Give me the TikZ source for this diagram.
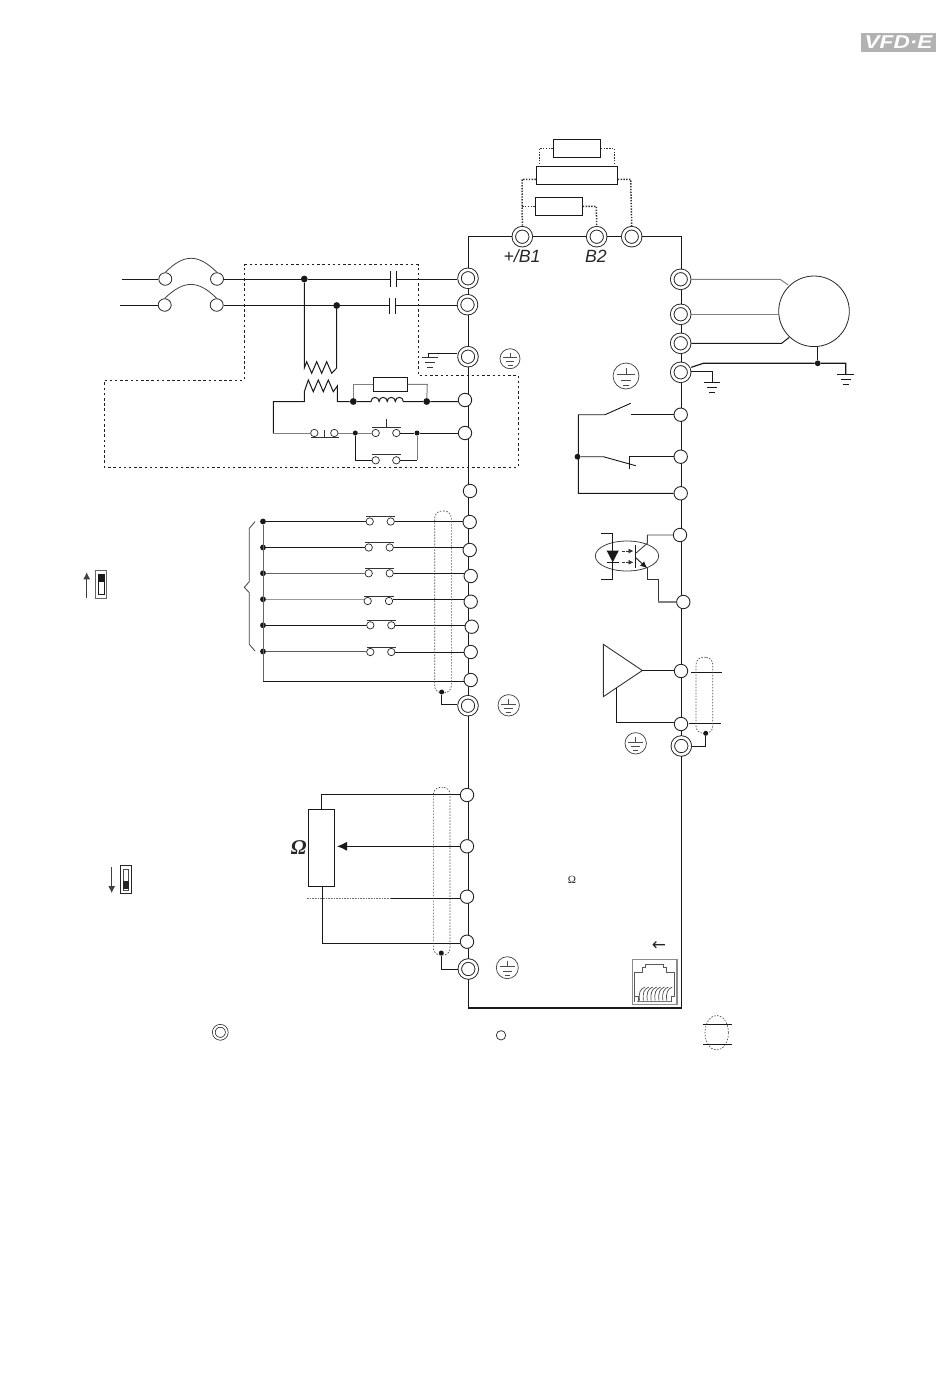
\documentclass[tikz,border=0pt]{standalone}
\usepackage{fontspec}
\setmainfont{Liberation Sans}
\newfontfamily\serifL{Liberation Serif}
\newfontfamily\dejav{DejaVu Sans}
\usetikzlibrary{arrows.meta,calc}
\tikzset{
  wire/.style={line width=1pt,black!90},
  gwire/.style={line width=1pt,black!50},
  term/.style={circle,draw=black!85,fill=white,inner sep=0pt,minimum size=13.4pt,line width=.9pt},
  dterm/.style={circle,draw=black!88,fill=white,double,double distance=2.6pt,inner sep=0pt,minimum size=17pt,line width=.9pt,outer sep=2.1pt},
  jn/.style={circle,fill=black!90,inner sep=0pt,minimum size=5.8pt},
  bjn/.style={circle,fill=black!90,inner sep=0pt,minimum size=6.8pt},
  ct/.style={circle,draw=black!85,fill=white,inner sep=0pt,minimum size=7.4pt,line width=.7pt},
  fuseterm/.style={ellipse,draw=black!85,fill=white,inner sep=0pt,minimum width=13pt,minimum height=12.5pt,line width=.8pt},
  rbox/.style={rectangle,draw=black!90,fill=white,inner sep=0pt,line width=1pt},
  dottedw/.style={line width=1.5pt,black!80,dash pattern=on 1.4pt off 1.4pt},
  dashbox/.style={line width=1pt,black!88,dash pattern=on 2.5pt off 2.7pt},
  shieldbox/.style={rectangle,rounded corners=7pt,draw=black!70,line width=.7pt,dash pattern=on 1.5pt off 1.5pt,inner sep=0pt},
  earthc/.style={circle,draw=black!75,fill=white,inner sep=0pt,line width=.7pt},
  lbl/.style={inner sep=0pt,font=\fontsize{17.7}{18}\selectfont\itshape,text=black!85},
}
\usetikzlibrary{shapes.geometric}
\newcommand\earthsym[4]{% name x y r
  \node[earthc,minimum size=#4*2pt] (#1) at (#2,#3) {};
  \draw[line width=.6pt,black!70]
    (#2,#3-.6*#4) -- (#2,#3-.13*#4)
    (#2-.7*#4,#3-.13*#4) -- (#2+.7*#4,#3-.13*#4)
    (#2-.42*#4,#3+.3*#4) -- (#2+.42*#4,#3+.3*#4)
    (#2-.25*#4,#3+.7*#4) -- (#2+.25*#4,#3+.7*#4);
}
\newcommand\gndbars[3]{% x y scale
  \draw[line width=1.1pt,black!90] (#1-8.3*#3,#2) -- (#1+8.3*#3,#2);
  \draw[line width=1.2pt,black!90] (#1-5*#3,#2+5*#3) -- (#1+5*#3,#2+5*#3);
  \draw[line width=1.3pt,black!90] (#1-3.2*#3,#2+10.2*#3) -- (#1+3.2*#3,#2+10.2*#3);
}
\newcommand\nocontact[5]{% name xa xb y baroffset
  \node[ct] (#1a) at (#2,#4) {};
  \node[ct] (#1b) at (#3,#4) {};
  \draw[line width=.85pt,black!80] ($(#1a)+(-3.7,#5)$) -- ($(#1b)+(4.5,#5)$);
}
\begin{document}
\begin{tikzpicture}[x=1pt,y=-1pt]
\useasboundingbox (0,0) rectangle (950,1386);
% logo
\node[rectangle,fill=black!30,minimum width=75pt,minimum height=19pt,inner sep=0pt] (logo) at (898.5,42.5) {};
\node[inner sep=0pt,text=white,font=\fontsize{18.5}{19}\selectfont\bfseries\itshape] (logot) at (898.5,42.5) {\scalebox{1.22}[1]{VFD·E}};
% main frame
\coordinate (TL) at (468.3,236.7);
\coordinate (TR) at (681.3,236.7);
\coordinate (BR) at (681.3,1008);
\coordinate (BL) at (468.3,1008);
\draw[wire,line width=1.1pt] (TL) -- (TR) -- (BR) -- (BL) -- cycle;
% top terminals
\node[dterm] (B1) at (522.3,236.7) {};
\node[dterm] (B2) at (596.7,236.7) {};
\node[dterm] (Mi) at (631.7,236.7) {};
\node[lbl] (lB1) at (522,256.5) {+/B1};
\node[lbl] (lB2) at (596,256.5) {B2};
% brake boxes
\node[rbox,minimum width=47pt,minimum height=18pt] (br1) at (576.8,148.3) {};
\node[rbox,minimum width=81pt,minimum height=18pt] (br2) at (576.8,175.3) {};
\node[rbox,minimum width=47pt,minimum height=18pt] (br3) at (558.8,206.3) {};
\draw[dottedw] (br1.west) -- (539.3,148.3) -- (539.3,166.3);
\draw[dottedw] (br1.east) -- (614.3,148.3) -- (614.3,166.3);
\draw[dottedw] (br2.west |- 0,179.3) -- (522,179.3) -- (B1.north);
\draw[dottedw] (br2.east |- 0,179.3) -- (630.7,179.3) -- (Mi.north);
\draw[dottedw] (br3.west) -- (522,206.3);
\draw[dottedw] (br3.east) -- (596.3,206.3) -- (B2.north);
% left power terminals
\node[dterm] (R) at (468,278.3) {};
\node[dterm] (S) at (467.5,304.7) {};
\node[dterm] (E1) at (468,356.7) {};
\earthsym{e1}{510}{358.7}{10}
\node[term] (a1) at (465,400) {};
\node[term] (a2) at (465,433) {};
\node[term] (a3) at (470,491) {};
% supply
\coordinate (L1) at (121.7,279);
\coordinate (L2) at (120,305);
\node[fuseterm] (f1a) at (165.3,279) {};
\node[fuseterm] (f1b) at (217,279) {};
\node[fuseterm] (f2a) at (164.7,305) {};
\node[fuseterm] (f2b) at (216.7,305) {};
\draw[wire] (L1) -- (f1a);
\draw[wire] (L2) -- (f2a);
\draw[wire,black!75,line width=.8pt] (f1a.north) .. controls (184,253.6) and (198,253.6) .. (f1b.north);
\draw[wire,black!75,line width=.8pt] (f2a.north) .. controls (184,279.8) and (198,279.8) .. (f2b.north);
\node[bjn] (j1) at (304.3,279) {};
\node[bjn] (j2) at (336.7,305.5) {};
\coordinate (c1a) at (390,279);
\coordinate (c1b) at (396,279);
\coordinate (c2a) at (389,305);
\coordinate (c2b) at (395,305);
\draw[wire] (f1b) -- (j1) -- (c1a);
\draw[wire] (c1b) -- (c1b -| R.west);
\draw[wire] (f2b) -- (c2a);
\draw[wire] (c2b) -- (c2b -| S.west);
\draw[wire] ($(c1a)+(0,-8.5)$) -- ($(c1a)+(0,8)$);
\draw[wire] ($(c1b)+(0,-8.5)$) -- ($(c1b)+(0,8)$);
\draw[wire] ($(c2a)+(0,-7.5)$) -- ($(c2a)+(0,9)$);
\draw[wire] ($(c2b)+(0,-7.5)$) -- ($(c2b)+(0,9)$);
% filter transformer
\draw[wire] (j1) -- (304.3,368) -- (306.7,361.7) -- (311.7,373.3) -- (316.7,361.7) -- (321.7,373.3) -- (326.7,361.7) -- (331.7,373.3) -- (336.7,368) -- (j2);
\node[bjn] (j3) at (353.3,401.5) {};
\node[bjn] (j4) at (426.7,401.5) {};
\draw[wire] (a1.west |- j4) -- (j4) -- (403.3,401.5)
  .. controls (403.3,396) and (395.3,396) .. (395.3,401.5)
  .. controls (395.3,396) and (387.2,396) .. (387.2,401.5)
  .. controls (387.2,396) and (379.1,396) .. (379.1,401.5)
  .. controls (379.1,396) and (371,396) .. (371,401.5) -- (j3)
  -- (337.3,401.5) -- (337.3,386) -- (333.3,391.7) -- (328.3,380) -- (323.3,391.7) -- (318.3,380) -- (313.3,391.7) -- (308.3,380) -- (304.3,391.7) -- (304.3,401.5) -- (273.3,401.5) -- (273.3,433);
\node[rbox,minimum width=34pt,minimum height=14pt] (rf) at (390.3,384.3) {};
\draw[gwire] (j3) -- (353.3,384.3) -- (rf.west);
\draw[gwire] (rf.east) -- (427.3,384.3) -- (j4);
% start/stop
\nocontact{st}{314.3}{334.3}{433}{4.4}
\draw[line width=.85pt,black!80] (324.3,430) -- (324.3,437.4);
\nocontact{on}{375.7}{396.3}{433}{-6}
\draw[line width=.85pt,black!80] (386,419.3) -- (386,427);
\nocontact{hd}{375.7}{396.3}{460.3}{-6}
\node[jn,minimum size=5pt] (j5) at (355.3,433) {};
\node[jn,minimum size=5pt] (j6) at (417,433) {};
\draw[gwire] (273.3,433) -- (sta);
\draw[gwire] (stb) -- (j5) -- (ona);
\draw[wire] (onb) -- (j6) -- (a2.west);
\draw[wire] (j5) -- (355.3,460.3) -- (hda);
\draw[gwire] (j6) -- (417,460.3);
\draw[wire] (417,460.3) -- (hdb);
% dashed filter box
\draw[dashbox] (244.3,264.7) -- (418.3,264.7) -- (418.3,375.3) -- (518.3,375.3) -- (518.3,467) -- (104.3,467) -- (104.3,380) -- (244.3,380) -- cycle;
% ground near E1
\draw[wire] (E1.west |- 0,353.3) -- (428.3,353.3) -- (428.3,357.3);
\draw[line width=.85pt,black!80] (421.7,357.3) -- (438.3,357.3) (425,362.3) -- (435,362.3) (427,367.3) -- (433,367.3);
% right terminals
\node[dterm] (U) at (680.7,279.3) {};
\node[dterm] (V) at (680.7,314.3) {};
\node[dterm] (W) at (680.7,343.3) {};
\node[dterm] (E2) at (680.7,372.3) {};
\earthsym{e2}{626}{376}{13}
\node[circle,draw=black!85,line width=.8pt,inner sep=0pt,minimum size=70.6pt] (M) at (814,311.3) {};
\draw[gwire] (U.east) -- (780,279.3) -- (788.3,285);
\draw[gwire] (V.east) -- (779,314.3);
\draw[wire] (W.east) -- (781.7,343.3) -- (789.3,337.3);
\node[jn] (jm) at (817.7,363.3) {};
\draw[wire] (817.7,346.6) -- (jm);
\draw[wire,line width=1.2pt] (E2.east |- 0,367.3) -- (703.3,363.3) -- (jm) -- (845.7,363.3) -- (845.7,374.3);
\gndbars{845.7}{374.3}{1}
\draw[wire,line width=1.2pt] (E2.east |- 0,371.7) -- (712.3,371.7) -- (712.3,382.3);
\gndbars{712}{382.3}{1}
% relay
\node[term] (ra) at (680.7,414.7) {};
\node[term] (rb) at (680.7,456.7) {};
\node[term] (rc) at (680.7,493.3) {};
\node[jn] (jr) at (577.5,456.7) {};
\draw[wire] (ra.west) -- (630.7,414.7);
\draw[wire,line width=.9pt] (630.7,403.3) -- (605,414.7) -- (578.3,414.7) -- (578.3,493.3) -- (rc.west);
\draw[wire,line width=.9pt] (jr) -- (603.3,456.7) -- (635.7,465.7);
\draw[wire,line width=.9pt] (rb.west) -- (629.3,456.7) -- (629.3,469.3);
% optocoupler
\node[term] (mo1) at (680,535) {};
\node[term] (mo2) at (683.3,602) {};
\node[ellipse,draw=black!75,line width=.8pt,inner sep=0pt,minimum width=63.4pt,minimum height=30pt] (opto) at (627,556) {};
\draw[wire,line width=.9pt] (601,533.3) -- (612.7,533.3) -- (612.7,579.3) -- (601,579.3);
\fill[black!90] (606.7,550.7) -- (618.7,550.7) -- (612.7,562.3) -- cycle;
\draw[line width=.9pt,black!90] (606.7,562.3) -- (618.7,562.3);
\draw[line width=.7pt,black!80,dash pattern=on 3pt off 1.5pt,-{Latex[length=5pt,width=5pt]}] (621.7,551) -- (633.5,551);
\draw[line width=.7pt,black!80,dash pattern=on 3pt off 1.5pt,-{Latex[length=5pt,width=5pt]}] (621.7,562.3) -- (633.5,562.3);
\draw[line width=.9pt,black!90] (635.7,545) -- (635.7,568.3);
\draw[line width=.9pt,black!75] (635.7,553.3) -- (647.3,543.3) -- (647.3,535) -- (mo1.west);
\draw[line width=.9pt,black!90,-{Latex[length=7pt,width=6pt]}] (635.7,557.7) -- (647.3,568.3);
\draw[line width=.9pt,black!80] (647.3,568.3) -- (647.3,579.3) -- (658.3,579.3) -- (658.3,602);
\draw[gwire,line width=1.1pt] (658.3,602) -- (mo2.west);
% analog output
\node[term] (ao1) at (681,671) {};
\node[term] (ao2) at (681,724) {};
\node[dterm] (E3) at (681.3,746) {};
\earthsym{e4}{635.7}{743.3}{10.7}
\draw[line width=.9pt,black!80] (603.3,644.3) -- (603.3,696.7) -- (642.3,670.5) -- cycle;
\draw[wire] (642.3,670.5) -- (ao1.west |- 0,670.5);
\draw[wire,line width=.85pt] (616.3,688.3) -- (616.3,722.3) -- (ao2.west |- 0,722.3);
\draw[wire] (691,672.3) -- (721.7,672.3);
\draw[wire] (689.3,723.3) -- (720.7,723.3);
\node[shieldbox,minimum width=16.7pt,minimum height=76pt] (sh2) at (704.4,695.3) {};
\node[jn,minimum size=5pt] (js2) at (705.7,733.3) {};
\draw[wire] (js2) -- (705.7,746) -- (E3.east);
% digital inputs
\node[term] (d1) at (469.7,522) {};
\node[term] (d2) at (469.7,550) {};
\node[term] (d3) at (470.7,576) {};
\node[term] (d4) at (470.7,601.7) {};
\node[term] (d5) at (471.7,626.7) {};
\node[term] (d6) at (470.7,652) {};
\node[term] (dc) at (470.7,680) {};
\node[dterm] (E4) at (468,705.7) {};
\earthsym{e3}{508.7}{705.3}{10.7}
\nocontact{m1}{369.7}{390.7}{521.5}{-5.3}
\nocontact{m2}{368.7}{389.7}{547.5}{-5.3}
\nocontact{m3}{368.7}{389.7}{573.3}{-5}
\nocontact{m4}{367.7}{389}{601}{-4.7}
\nocontact{m5}{370.3}{391.3}{625.3}{-5}
\nocontact{m6}{370.3}{391.3}{652}{-5}
\node[jn] (k1) at (263,521.5) {};
\node[jn] (k2) at (263,547.5) {};
\node[jn] (k3) at (263,573.3) {};
\node[jn] (k4) at (263,599.3) {};
\node[jn] (k5) at (263,625.3) {};
\node[jn] (k6) at (263,651.5) {};
\draw[wire] (k1) -- (m1a);
\draw[wire] (k2) -- (m2a);
\draw[gwire,black!60] (k3) -- (m3a);
\draw[gwire,black!40] (k4) -- (k4 -| m4a.west);
\draw[wire] (k5) -- (m5a);
\draw[gwire,black!65] (k6) -- (k6 -| m6a.west);
\draw[wire] (m1b) -- (m1b -| d1.west);
\draw[wire] (m2b) -- (m2b -| d2.west);
\draw[wire] (m3b) -- (m3b -| d3.west);
\draw[wire] (m4b.east |- k4) -- (k4 -| d4.west);
\draw[wire] (m5b) -- (m5b -| d5.west);
\draw[wire] (m6b) -- (m6b -| d6.west);
\draw[gwire,black!60] (k1) -- (263,681.3);
\draw[wire] (263,681.3) -- (dc.west |- 0,681.3);
\draw[line width=.8pt,black!75] (255,521.7) -- (249.3,528.3) -- (249.3,581.7) -- (244.3,587.3) -- (249.3,592.7) -- (249.3,644.3) -- (255,651);
\node[shieldbox,minimum width=16.7pt,minimum height=181.7pt] (sh1) at (443,601.9) {};
\node[jn,minimum size=5pt] (js1) at (441.7,692) {};
\draw[wire,line width=1.2pt] (js1) -- (441.7,704.3) -- (E4.west |- 0,704.3);
% switch up
\draw[line width=.8pt,black!75,-{Latex[length=7pt,width=7pt]}] (86.7,598.3) -- (86.7,572.3);
\draw[line width=.9pt,black!60] (95.5,570) rectangle (106.7,598.3);
\draw[line width=.8pt,black!90] (98,574) rectangle (104.3,594);
\fill[black!90] (98,574) rectangle (104.3,581.7);
% switch down
\draw[line width=.8pt,black!75,-{Latex[length=7pt,width=7pt]}] (111.7,867.3) -- (111.7,893);
\draw[line width=.9pt,black!85] (120.3,865.3) rectangle (131.7,893.7);
\draw[line width=.7pt,black!70] (123.3,869.3) rectangle (128.7,890);
\fill[black!85] (123.3,881) rectangle (128.7,889.3);
% analog inputs
\node[term] (v1) at (467,795) {};
\node[term] (v2) at (467,846.3) {};
\node[term] (v3) at (467,896.7) {};
\node[term] (v4) at (467,941.7) {};
\node[dterm] (E5) at (468.3,969) {};
\earthsym{e5}{507.3}{967.7}{11}
\node[rbox,minimum width=26pt,minimum height=77.4pt] (pot) at (321.3,848) {};
\draw[wire] (pot.north) -- (321.3,794.6) -- (v1.west |- 0,794.6);
\draw[wire,{Latex[length=10pt,width=9pt]}-] (337,846.3) -- (v2.west);
\coordinate (v3m) at (390,898.3);
\draw[wire] (v3m) -- (v3.west |- v3m);
\draw[line width=.7pt,black!55,dash pattern=on 1pt off .6pt] (306.7,898.3) -- (v3m);
\draw[wire] (322.3,886.7) -- (322.3,943.3) -- (v4.west |- 0,943.3);
\node[lbl,font=\fontsize{21}{21}\selectfont\serifL\bfseries\itshape] (om1) at (298.6,848) {Ω};
\node[shieldbox,minimum width=16.7pt,minimum height=167.7pt] (sh3) at (441.7,871.2) {};
\node[jn,minimum size=5pt] (js3) at (441.3,953) {};
\draw[wire,line width=1.2pt] (js3) -- (441.3,969.3) -- (E5.west |- 0,969.3);
\node[inner sep=0pt,font=\fontsize{11}{11}\selectfont\serifL,text=black!85] (om2) at (572,880) {Ω};
% RJ45
\node[inner sep=0pt,font=\fontsize{17}{17}\selectfont\dejav,text=black!85] (arr) at (659,946.5) {←};
\draw[line width=1.3pt,black!45] (632.3,959.3) rectangle (677,1004.3);
\draw[line width=.8pt,black!65] (634.7,1002) -- (634.7,972.7) -- (642.7,972.7) -- (642.7,967.3) -- (645.3,967.3) -- (645.3,964.3) -- (663.3,964.3) -- (663.3,967.3) -- (666.7,967.3) -- (666.7,972.7) -- (674.7,972.7) -- (674.7,996.7) -- (671.7,996.7) -- (671.7,1001) -- (638.3,1001) -- (638.3,996.7) -- (634.7,996.7);
\foreach \i in {0,...,7}{
  \draw[line width=.7pt,black!70] ({639.5+\i*3.9},1000.5) .. controls ({638.5+\i*3.9},993) and ({640+\i*3.9},989) .. ({645+\i*3.9},987);
}
\draw[line width=1pt,black!55] (637,1001) -- (671,1001);
% legend
\node[dterm,minimum size=13pt,double distance=2pt,line width=.7pt] (lg1) at (220.3,1032.3) {};
\node[term,minimum size=9.4pt,line width=.7pt] (lg2) at (501,1035.3) {};
\node[ellipse,draw=black!70,line width=.7pt,dash pattern=on 1.5pt off 1.5pt,inner sep=0pt,minimum width=23.4pt,minimum height=34.6pt] (lg3) at (716.7,1032.7) {};
\coordinate (lg4a) at (702.7,1024.3);
\coordinate (lg4b) at (731.7,1024.3);
\coordinate (lg5a) at (702.7,1044.3);
\coordinate (lg5b) at (731.7,1044.3);
\draw[wire] (lg4a) -- (lg4b);
\draw[wire] (lg5a) -- (lg5b);
\end{tikzpicture}
\end{document}
